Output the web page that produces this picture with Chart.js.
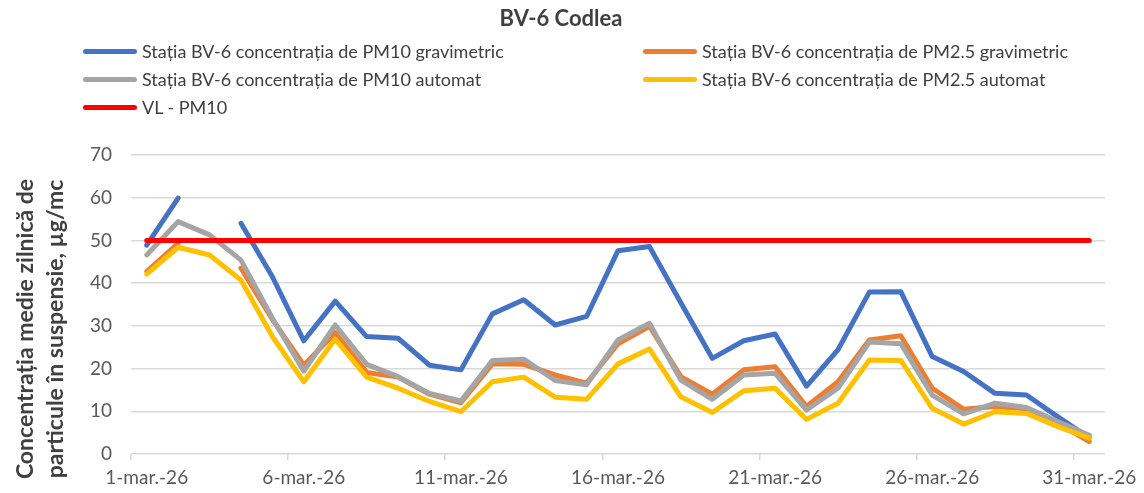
<!DOCTYPE html>
<html>
<head>
<meta charset="utf-8">
<script src="https://cdn.jsdelivr.net/npm/chart.js@4.4.1/dist/chart.umd.min.js"></script>
<style>
  html, body { margin: 0; padding: 0; background: #fff; }
  #wrap { position: relative; width: 1144px; height: 493px; font-family: Lato, "Liberation Sans", sans-serif; color: #404040; }
  #myChart { position: absolute; left: 0; top: 0; }
  #title { position: absolute; left: 461px; width: 200px; top: 4px; text-align: center; font-weight: bold; font-size: 22px; color: #404040; }
  #legend { position: absolute; left: 83px; top: 40px; display: grid; grid-template-columns: 560px 500px; row-gap: 6px; font-size: 18px; }
  .item { display: flex; align-items: center; height: 22px; white-space: nowrap; }
  .swatch { width: 54px; height: 5px; border-radius: 3px; margin-right: 5px; }
  #ytitle { position: absolute; left: -131px; top: 299px; width: 340px; height: 60px; line-height: 30px; text-align: center;
            transform: rotate(-90deg); font-weight: bold; font-size: 23px; color: #404040; white-space: nowrap; }
</style>
</head>
<body>
<div id="wrap">
  <canvas id="myChart" width="1144" height="493"></canvas>
  <div id="title">BV-6 Codlea</div>
  <div id="legend"></div>
  <div id="ytitle">Concentrația medie zilnică de<br>particule în suspensie, µg/mc</div>
</div>
<script>
const days = []
for (let d = 1; d <= 31; d++) days.push(`${d}-mar.-26`)

const seriesNames = [
  'Stația BV-6 concentrația de PM10 gravimetric',
  'Stația BV-6 concentrația de PM2.5 gravimetric',
  'Stația BV-6 concentrația de PM10 automat',
  'Stația BV-6 concentrația de PM2.5 automat',
  'VL - PM10'
]
const seriesColors = ['#4472C4', '#ED7D31', '#A5A5A5', '#FFC000', '#FF0000']

// values, one per day
const pm10Grav = [48.9, 59.9, null, 54.0, 41.5, 26.5, 35.8, 27.5, 27.1, 20.8, 19.7, 32.8, 36.1, 30.2, 32.2, 47.6, 48.6, 35.4, 22.4, 26.5, 28.1, 15.9, 24.4, 37.9, 38.0, 22.8, 19.3, 14.2, 13.8, 8.7, 3.8]
const pm25Grav = [42.7, 49.3, null, 43.5, 31.5, 20.8, 28.4, 19.1, 18.0, 14.0, 12.0, 21.1, 21.0, 18.5, 16.6, 25.8, 29.9, 18.1, 14.0, 19.7, 20.4, 11.1, 16.9, 26.7, 27.7, 15.4, 10.5, 11.1, 10.6, 7.2, 2.9]
const pm10Auto = [46.6, 54.4, 51.3, 45.4, 31.8, 19.4, 30.2, 21.0, 18.1, 14.2, 12.4, 21.9, 22.2, 17.2, 16.2, 26.7, 30.6, 17.3, 12.8, 18.5, 18.9, 10.3, 15.4, 26.2, 25.8, 13.8, 9.4, 11.9, 10.9, 7.6, 4.4]
const pm25Auto = [42.1, 48.4, 46.6, 40.7, 27.5, 16.9, 26.9, 18.0, 15.4, 12.3, 9.9, 16.9, 18.0, 13.3, 12.8, 21.1, 24.6, 13.4, 9.7, 14.8, 15.4, 8.1, 11.9, 22.0, 21.9, 10.7, 7.0, 9.9, 9.5, 6.4, 3.7]
const limitPm10 = days.map(() => 50)

const allSeries = [pm10Grav, pm25Grav, pm10Auto, pm25Auto, limitPm10]
const drawOrder = [4, 3, 2, 1, 0] // red on top, blue at the bottom

// html legend laid out like the Excel one (two columns)
const $legend = document.getElementById('legend')
seriesNames.forEach((name, i) => {
  const item = document.createElement('div')
  item.className = 'item'
  item.innerHTML = `<span class="swatch" style="background:${seriesColors[i]}"></span><span>${name}</span>`
  $legend.appendChild(item)
})

const ctx = document.getElementById('myChart').getContext('2d')
const tickFont = { family: 'Lato, "Liberation Sans", sans-serif', size: 19 }

const myChart = new Chart(ctx, {
  type: 'line',
  data: {
    labels: days,
    datasets: allSeries.map((data, i) => ({
      label: seriesNames[i],
      data: data,
      borderColor: seriesColors[i],
      backgroundColor: seriesColors[i],
      borderWidth: 5,
      borderCapStyle: 'round',
      borderJoinStyle: 'round',
      pointRadius: 0,
      tension: 0,
      spanGaps: false,
      order: drawOrder[i]
    }))
  },
  options: {
    responsive: false,
    animation: false,
    layout: { padding: { top: 155, right: 39, bottom: 0, left: 0 } },
    plugins: {
      legend: { display: false },
      title: { display: false },
      tooltip: { enabled: false }
    },
    scales: {
      x: {
        offset: true,
        grid: {
          offset: true,
          drawOnChartArea: false,
          tickLength: 6,
          color: c => (c.index % 5 === 0 ? '#d9d9d9' : 'rgba(0,0,0,0)'),
          lineWidth: 1.5
        },
        border: { display: false },
        ticks: {
          autoSkip: false,
          maxRotation: 0,
          padding: 6,
          color: '#595959',
          font: tickFont,
          callback: function (val, index) { return index % 5 === 0 ? this.getLabelForValue(val) : '' }
        },
        afterFit: scale => { scale.height = 39 }
      },
      y: {
        min: 0,
        max: 70,
        ticks: { stepSize: 10, color: '#595959', font: tickFont, padding: 19 },
        grid: { color: '#d9d9d9', lineWidth: 1.5, drawTicks: false },
        border: { display: false },
        afterFit: scale => { scale.width = 131 }
      }
    }
  }
})
</script>
</body>
</html>
